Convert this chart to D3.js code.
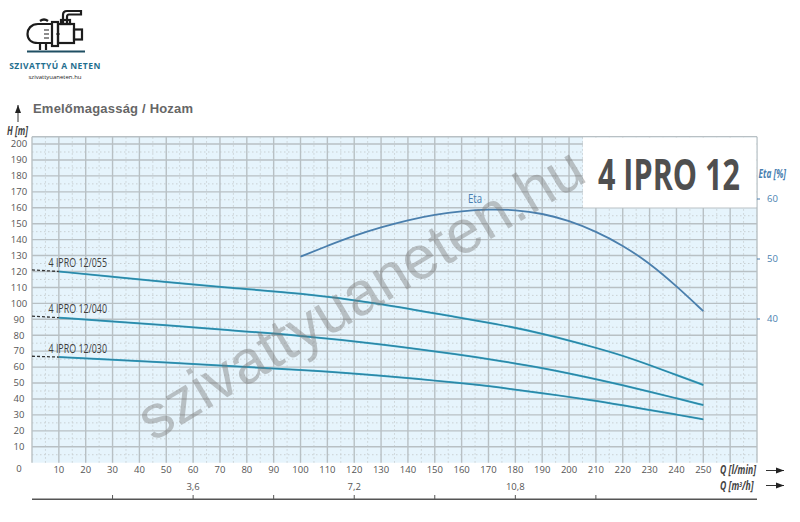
<!DOCTYPE html>
<html>
<head>
<meta charset="utf-8">
<script src="https://cdn.jsdelivr.net/npm/d3@7"></script>
<style>
  html, body { margin: 0; padding: 0; background: #fff; }
  svg { display: block; }
  text { font-family: "Open Sans", sans-serif; }
</style>
</head>
<body>
<div id="chart"></div>
<script>
// Adatok
const qValues = [10, 30, 50, 70, 100, 130, 160, 174, 190, 210, 220, 230, 240, 250];
const h055 = [120, 116.7, 113.4, 110.2, 106.4, 100, 90.6, 86.8, 81.2, 72.2, 67.2, 61.3, 55, 48.8];
const h040 = [91, 88.7, 86.3, 83.6, 79.8, 74.5, 67.6, 64, 59.6, 52.5, 48.6, 44.6, 40.4, 36.2];
const h030 = [66.3, 64.7, 62.9, 61, 58.3, 54.8, 49.9, 47.3, 43.7, 38.9, 36, 33.1, 30.2, 27.2];
const dashStart = [121, 92, 66.8];
const seriesNames = ['4 IPRO 12/055', '4 IPRO 12/040', '4 IPRO 12/030'];

const etaQ = [100, 110, 120, 130, 140, 150, 160, 170, 180, 190, 200, 210, 220, 230, 240, 250];
const etaValues = [50.4, 52.2, 53.9, 55.3, 56.5, 57.4, 58, 58.3, 58.2, 57.6, 56.4, 54.6, 52.3, 49.3, 45.5, 41.3];
const etaTicks = [60, 50, 40];

const qTicks = d3.range(10, 260, 10);
const hTicks = d3.range(10, 210, 10);
const cubicTicks = [1.8, 3.6, 5.4, 7.2, 9, 10.8, 12.6];
const cubicLabels = [3.6, 7.2, 10.8];

const width = 800, height = 522;
const svg = d3.select('#chart').append('svg').attr('width', width).attr('height', height);

// Skálák
const x = d3.scaleLinear().domain([0, 270]).range([32, 757]);
const y = d3.scaleLinear().domain([0, 204.6]).range([462.7, 136.7]);
const yEta = d3.scaleLinear().domain([60, 40]).range([199, 319]);
const xCubic = d3.scaleLinear().domain([0, 16.2]).range([32, 757]);

// Keskeny felirat: nincs condensed betű, ezért vízszintesen nyomjuk össze
function narrowText(px, py, scale, size, color) {
  return svg.append('text')
    .attr('transform', `translate(${px},${py}) scale(${scale},1)`)
    .attr('font-size', size)
    .attr('fill', color);
}

// Rács háttér
svg.append('rect')
  .attr('x', x(0)).attr('y', y(204.6))
  .attr('width', x(270) - x(0)).attr('height', y(0) - y(204.6))
  .attr('fill', '#e6f4fc');

const grid = svg.append('g');

// Pontozott segédvonalak (5-ösével)
grid.selectAll('.minor-v').data(d3.range(5, 270, 10)).enter().append('line')
  .attr('x1', d => x(d)).attr('x2', d => x(d))
  .attr('y1', y(0)).attr('y2', y(204.6))
  .attr('stroke', '#c9d0d3').attr('stroke-width', 1).attr('stroke-dasharray', '1.5,2.5');

grid.selectAll('.minor-h').data(d3.range(5, 205, 10)).enter().append('line')
  .attr('x1', x(0)).attr('x2', x(270))
  .attr('y1', d => y(d)).attr('y2', d => y(d))
  .attr('stroke', '#c9d0d3').attr('stroke-width', 1).attr('stroke-dasharray', '1.5,2.5');

// Fő rácsvonalak
grid.selectAll('.major-v').data(d3.range(0, 271, 10)).enter().append('line')
  .attr('x1', d => x(d)).attr('x2', d => x(d))
  .attr('y1', y(0)).attr('y2', y(204.6))
  .attr('stroke', '#b8c0c4').attr('stroke-width', 1.4);

grid.selectAll('.major-h').data(d3.range(10, 201, 10).concat([204.6])).enter().append('line')
  .attr('x1', x(0)).attr('x2', x(270))
  .attr('y1', d => y(d)).attr('y2', d => y(d))
  .attr('stroke', '#b8c0c4').attr('stroke-width', 1.4);

// Fehér névtábla
svg.append('rect')
  .attr('x', 583).attr('y', 137.5)
  .attr('width', 173.3).attr('height', 70)
  .attr('fill', '#fff');

// Tengelyfeliratok
svg.selectAll('.h-label').data(hTicks.concat([0])).enter().append('text')
  .attr('x', 19).attr('y', d => d === 0 ? 469 : y(d))
  .attr('dy', '0.35em')
  .attr('text-anchor', 'middle')
  .attr('font-size', 9.5).attr('fill', '#555')
  .text(d => d);

svg.selectAll('.q-label').data(qTicks).enter().append('text')
  .attr('x', d => x(d)).attr('y', 469.5)
  .attr('dy', '0.35em')
  .attr('text-anchor', 'middle')
  .attr('font-size', 9.5).attr('fill', '#555')
  .text(d => d);

narrowText(7, 135, 0.72, 11.5, '#444')
  .attr('font-weight', 'bold').attr('font-style', 'italic')
  .text('H [m]');

narrowText(720, 474, 0.72, 12, '#444')
  .attr('font-weight', 'bold').attr('font-style', 'italic')
  .text('Q [l/min]');

narrowText(720, 490, 0.72, 12, '#444')
  .attr('font-weight', 'bold').attr('font-style', 'italic')
  .html('Q  [m<tspan dy="-3" font-size="7">3</tspan><tspan dy="3">/h]</tspan>');

// Nyilak
const arrow = (x1, y1, x2, y2) => {
  const a = Math.atan2(y2 - y1, x2 - x1);
  svg.append('line').attr('x1', x1).attr('y1', y1).attr('x2', x2).attr('y2', y2)
    .attr('stroke', '#333').attr('stroke-width', 1);
  const p = [[x2, y2],
    [x2 - 8 * Math.cos(a) - 3 * Math.sin(a), y2 - 8 * Math.sin(a) + 3 * Math.cos(a)],
    [x2 - 8 * Math.cos(a) + 3 * Math.sin(a), y2 - 8 * Math.sin(a) - 3 * Math.cos(a)]];
  svg.append('polygon').attr('points', p.join(' ')).attr('fill', '#222');
};
arrow(18, 122, 18, 105);
arrow(766, 470.5, 784, 470.5);
arrow(766, 485.5, 784, 485.5);

// m3/h tengely
svg.append('line')
  .attr('x1', xCubic(0)).attr('x2', xCubic(16.2))
  .attr('y1', 499.3).attr('y2', 499.3)
  .attr('stroke', '#555').attr('stroke-width', 1.5);

svg.selectAll('.cubic-tick').data(cubicTicks).enter().append('line')
  .attr('x1', d => xCubic(d)).attr('x2', d => xCubic(d))
  .attr('y1', 495).attr('y2', 499.3)
  .attr('stroke', '#555').attr('stroke-width', 1);

svg.selectAll('.cubic-label').data(cubicLabels).enter().append('text')
  .attr('x', d => xCubic(d)).attr('y', 486.5)
  .attr('dy', '0.35em')
  .attr('text-anchor', 'middle')
  .attr('font-size', 9.5).attr('fill', '#555')
  .text(d => String(d).replace('.', ','));

// Eta tengely
svg.selectAll('.eta-tick').data(etaTicks).enter().append('line')
  .attr('x1', 757).attr('x2', 760)
  .attr('y1', d => yEta(d)).attr('y2', d => yEta(d))
  .attr('stroke', '#4a7fb0').attr('stroke-width', 1);

svg.selectAll('.eta-label').data(etaTicks).enter().append('text')
  .attr('x', 767).attr('y', d => yEta(d))
  .attr('dy', '0.35em')
  .attr('font-size', 9.5).attr('fill', '#4a7fb0')
  .text(d => d);

narrowText(758.5, 178, 0.72, 11.5, '#4a7fb0')
  .attr('font-weight', 'bold').attr('font-style', 'italic')
  .text('Eta [%]');

// Görbék
const line = d3.line().curve(d3.curveBasis);

[h055, h040, h030].forEach((values, i) => {
  const pts = qValues.map((q, j) => [x(q), y(values[j])]);
  svg.append('path')
    .attr('d', line(pts))
    .attr('fill', 'none').attr('stroke', '#35a6c6').attr('stroke-width', 2);
  svg.append('path')
    .attr('d', line(pts))
    .attr('fill', 'none').attr('stroke', '#2c6f8c').attr('stroke-width', 0.7);

  // Szaggatott kezdet
  svg.append('line')
    .attr('x1', x(0)).attr('x2', x(10))
    .attr('y1', y(dashStart[i])).attr('y2', y(values[0]))
    .attr('stroke', '#333').attr('stroke-width', 1.3).attr('stroke-dasharray', '3,2');

  narrowText(48.5, y(values[0]) - 4.5, 0.74, 12, '#3c3c3c')
    .text(seriesNames[i]);
});

svg.append('path')
  .attr('d', line(etaQ.map((q, j) => [x(q), yEta(etaValues[j])])))
  .attr('fill', 'none').attr('stroke', '#4a7fad').attr('stroke-width', 1.8);

narrowText(468, 203, 0.8, 12, '#4a7fb0')
  .text('Eta');

// Cím
svg.append('text')
  .attr('x', 33).attr('y', 113)
  .style('font-family', '"Liberation Sans", sans-serif')
  .attr('font-size', 13).attr('font-weight', 'bold').attr('fill', '#666')
  .attr('letter-spacing', 0.2)
  .text('Emelőmagasság / Hozam');

// Vízjel
svg.append('text')
  .attr('transform', 'translate(153,442) rotate(-31)')
  .style('font-family', '"Liberation Sans", sans-serif')
  .attr('font-size', 61).attr('fill', '#777').attr('opacity', 0.42)
  .text('szivattyuaneten.hu');

narrowText(598, 190, 0.71, 43, '#4f4f4f')
  .attr('font-weight', 'bold')
  .text('4 IPRO 12');

// Logó
const logo = svg.append('g')
  .attr('fill', 'none').attr('stroke', '#1c1c1c').attr('stroke-width', 2.2);
logo.append('path').attr('d', 'M52,24 H38 C31,24 27.5,29 27.5,34 C27.5,39 31,43 38,43 H52');
logo.append('rect').attr('x', 52).attr('y', 22).attr('width', 6).attr('height', 24);
logo.append('rect').attr('x', 58).attr('y', 24).attr('width', 16).attr('height', 19);
logo.append('rect').attr('x', 74).attr('y', 29.5).attr('width', 8).attr('height', 10);
logo.append('path').attr('d', 'M63,24 V15 Q63,11 67,11 H81 V14.5 H69 Q67,14.5 67,17 V24');
logo.append('rect').attr('x', 61).attr('y', 20).attr('width', 9).attr('height', 4);
logo.append('path').attr('d', 'M40,43 V50 M46,43 V50 M40,21 Q44,18 48,21');
logo.append('path').attr('d', 'M44,30 H49 M44,34 H49 M44,38 H49 M56,34 H60').attr('stroke-width', 1.2);
logo.append('line')
  .attr('x1', 27).attr('x2', 85).attr('y1', 51.5).attr('y2', 51.5)
  .attr('stroke', '#1f4f63').attr('stroke-width', 1.8);

svg.append('text')
  .attr('x', 55).attr('y', 69)
  .attr('text-anchor', 'middle')
  .attr('font-size', 8.5).attr('font-weight', 'bold').attr('fill', '#1f6f8f')
  .attr('letter-spacing', 0.45)
  .text('SZIVATTYÚ A NETEN');

svg.append('text')
  .attr('x', 55).attr('y', 79)
  .attr('text-anchor', 'middle')
  .attr('font-size', 6).attr('fill', '#222')
  .text('szivattyuaneten.hu');
</script>
</body>
</html>
